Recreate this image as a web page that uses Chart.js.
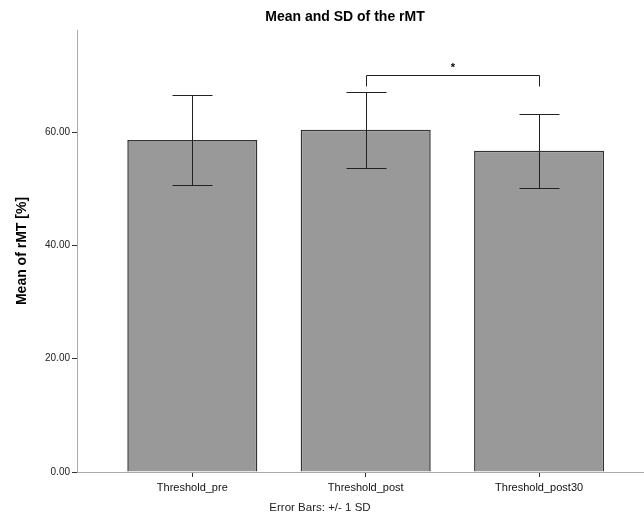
<!DOCTYPE html>
<html>
<head>
<meta charset="utf-8">
<title>Mean and SD of the rMT</title>
<script src="https://cdn.jsdelivr.net/npm/chart.js@4"></script>
<style>
  body { margin: 0; background: #fff; }
  #wrap { position: relative; width: 644px; height: 519px; }
</style>
</head>
<body>
<div id="wrap"><canvas id="rmt-chart" width="644" height="519"></canvas></div>
<script>
const categories = ['Threshold_pre', 'Threshold_post', 'Threshold_post30'];
const means = [58.6, 60.4, 56.7];
const sds = [7.9, 6.7, 6.5];
const yTicks = [0, 20, 40, 60];
// significance bracket between Threshold_post and Threshold_post30
const sigPair = [1, 2];
const sigLevels = [70.1, 68.2]; // bracket top, leg end
const sigLabel = '*';

const FONT = "'Liberation Sans', Arial, sans-serif";

const extrasPlugin = {
  id: 'extras',
  afterDatasetsDraw(chart) {
    const { ctx, scales: { x, y } } = chart;
    ctx.save();
    ctx.strokeStyle = '#222';
    ctx.lineWidth = 1;

    // error bars +/- 1 SD
    means.forEach((m, i) => {
      const cx = Math.round(x.getPixelForValue(i)) + 0.5;
      const top = Math.round(y.getPixelForValue(m + sds[i])) + 0.5;
      const bot = Math.round(y.getPixelForValue(m - sds[i])) + 0.5;
      ctx.beginPath();
      ctx.moveTo(cx, top); ctx.lineTo(cx, bot);
      ctx.moveTo(cx - 20, top); ctx.lineTo(cx + 20, top);
      ctx.moveTo(cx - 20, bot); ctx.lineTo(cx + 20, bot);
      ctx.stroke();
    });

    // significance bracket
    const x1 = Math.round(x.getPixelForValue(sigPair[0])) + 0.5;
    const x2 = Math.round(x.getPixelForValue(sigPair[1])) + 0.5;
    const yb = Math.round(y.getPixelForValue(sigLevels[0])) + 0.5;
    const yl = Math.round(y.getPixelForValue(sigLevels[1])) + 0.5;
    ctx.beginPath();
    ctx.moveTo(x1, yl); ctx.lineTo(x1, yb); ctx.lineTo(x2, yb); ctx.lineTo(x2, yl);
    ctx.stroke();
    ctx.fillStyle = '#000';
    ctx.font = 'bold 11px ' + FONT;
    ctx.textAlign = 'center';
    ctx.textBaseline = 'middle';
    ctx.fillText(sigLabel, (x1 + x2) / 2, yb - 8);
    ctx.restore();
  },
  afterDraw(chart) {
    const { ctx } = chart;
    ctx.save();
    ctx.fillStyle = '#000';
    ctx.textAlign = 'center';
    ctx.textBaseline = 'middle';
    ctx.font = 'bold 14px ' + FONT;
    ctx.fillText('Mean and SD of the rMT', 345, 17);
    ctx.fillStyle = '#222';
    ctx.font = '11.5px ' + FONT;
    ctx.fillText('Error Bars: +/- 1 SD', 320, 508);
    ctx.restore();
  }
};

const ctx = document.getElementById('rmt-chart').getContext('2d');
new Chart(ctx, {
  type: 'bar',
  data: {
    datasets: [{
      data: means.map((m, i) => ({ x: i, y: m })),
      backgroundColor: '#999999',
      borderColor: '#333333',
      borderWidth: 1.5,
      barPercentage: 0.75,
      categoryPercentage: 1
    }]
  },
  options: {
    responsive: false,
    animation: false,
    layout: { padding: { top: 30, right: 0, bottom: 0, left: 0 } },
    plugins: {
      legend: { display: false },
      tooltip: { enabled: false },
      title: { display: false }
    },
    scales: {
      x: {
        type: 'linear',
        min: -0.665,
        max: 2.605,
        offset: false,
        afterBuildTicks: (scale) => { scale.ticks = categories.map((c, i) => ({ value: i })); },
        afterFit: (scale) => { scale.height = 47; },
        grid: { drawOnChartArea: false, offset: false, tickLength: 5, color: '#333' },
        border: { color: '#aaaaaa', width: 1 },
        ticks: {
          autoSkip: false,
          maxRotation: 0,
          padding: 4,
          color: '#111',
          font: { family: FONT, size: 11 },
          callback: (v) => categories[v] ?? ''
        }
      },
      y: {
        min: 0,
        max: 78,
        afterBuildTicks: (scale) => { scale.ticks = yTicks.map(v => ({ value: v })); },
        afterFit: (scale) => { scale.width = 77; },
        grid: { drawOnChartArea: false, tickLength: 5, color: '#333' },
        border: { color: '#aaaaaa', width: 1 },
        ticks: {
          padding: 2,
          color: '#222',
          font: { family: FONT, size: 10 },
          callback: (v) => Number(v).toFixed(2)
        },
        title: {
          display: true,
          text: 'Mean of rMT [%]',
          color: '#000',
          font: { family: FONT, size: 14, weight: 'bold' },
          padding: { top: 14, bottom: 0 }
        }
      }
    }
  },
  plugins: [extrasPlugin]
});
</script>
</body>
</html>
